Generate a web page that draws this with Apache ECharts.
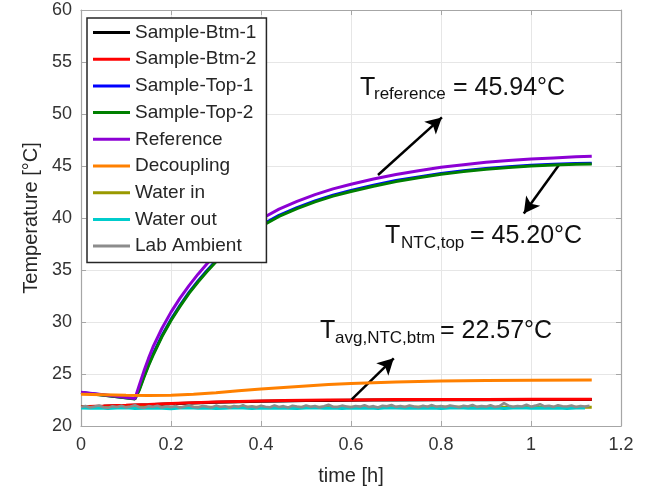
<!DOCTYPE html>
<html><head><meta charset="utf-8">
<script src="https://cdn.jsdelivr.net/npm/echarts@6/dist/echarts.min.js"></script>
<style>html,body{margin:0;padding:0;background:#fff}#c{width:648px;height:494px}</style>
</head><body><div id="c"></div>
<script>
const seriesNames = ['Sample-Btm-1','Sample-Btm-2','Sample-Top-1','Sample-Top-2','Reference','Decoupling','Water in','Water out','Lab Ambient'];
const seriesColors = ['#000000','#FF0000','#0000FF','#008000','#8C00D4','#FF8000','#999900','#00CCCC','#8C8C8C'];

// time grids [h]
const tRise = [0,0.04,0.08,0.12,0.13,0.14,0.15,0.16,0.18,0.20,0.22,0.24,0.26,0.28,0.30,0.33,0.36,0.40,0.44,0.48,0.52,0.56,0.60,0.65,0.70,0.75,0.80,0.85,0.90,0.95,1.00,1.05,1.10,1.135];
const tSlow = [0,0.05,0.10,0.15,0.20,0.25,0.30,0.35,0.40,0.45,0.50,0.55,0.60,0.65,0.70,0.80,0.90,1.00,1.135];
const tMid = [0,0.02,0.04,0.06,0.08,0.10,0.12,0.14,0.16,0.18,0.20,0.22,0.24,0.26,0.28,0.30,0.32,0.34,0.36,0.38,0.40,0.42,0.44,0.46,0.48,0.50,0.52,0.54,0.56,0.58,0.60,0.62,0.64,0.66,0.68,0.70,0.72,0.74,0.76,0.78,0.80,0.82,0.84,0.86,0.88,0.90,0.92,0.94,0.96,0.98,1.00,1.02,1.04,1.06,1.08,1.10,1.12];
const tFine = [0,0.01,0.02,0.03,0.04,0.05,0.06,0.07,0.08,0.09,0.10,0.11,0.12,0.13,0.14,0.15,0.16,0.17,0.18,0.19,0.20,0.21,0.22,0.23,0.24,0.25,0.26,0.27,0.28,0.29,0.30,0.31,0.32,0.33,0.34,0.35,0.36,0.37,0.38,0.39,0.40,0.41,0.42,0.43,0.44,0.45,0.46,0.47,0.48,0.49,0.50,0.51,0.52,0.53,0.54,0.55,0.56,0.57,0.58,0.59,0.60,0.61,0.62,0.63,0.64,0.65,0.66,0.67,0.68,0.69,0.70,0.71,0.72,0.73,0.74,0.75,0.76,0.77,0.78,0.79,0.80,0.81,0.82,0.83,0.84,0.85,0.86,0.87,0.88,0.89,0.90,0.91,0.92,0.93,0.94,0.95,0.96,0.97,0.98,0.99,1.00,1.01,1.02,1.03,1.04,1.05,1.06,1.07,1.08,1.09,1.10,1.11,1.12,1.13];

// temperatures [°C]
const referenceVals = [23.25,23.05,22.85,22.65,24.0,25.3,26.5,27.6,29.4,30.95,32.3,33.5,34.6,35.6,36.5,37.7,38.75,39.9,40.85,41.6,42.25,42.8,43.25,43.75,44.18,44.55,44.87,45.13,45.35,45.53,45.67,45.78,45.88,45.94];
const top2Vals = [23.2,23.0,22.8,22.6,23.5,24.7,25.8,26.8,28.6,30.15,31.5,32.75,33.85,34.85,35.8,37.0,38.05,39.2,40.15,40.9,41.55,42.1,42.55,43.05,43.5,43.87,44.2,44.46,44.68,44.86,45.0,45.1,45.16,45.20];
const top1Vals = [23.22,23.02,22.82,22.62,23.6,24.8,25.9,26.9,28.7,30.25,31.6,32.85,33.95,34.95,35.9,37.1,38.15,39.3,40.25,41.0,41.65,42.2,42.65,43.15,43.6,43.95,44.28,44.54,44.76,44.93,45.07,45.17,45.23,45.27];
const btm2Vals = [21.86,21.92,21.99,22.07,22.16,22.24,22.31,22.36,22.40,22.44,22.47,22.49,22.51,22.53,22.54,22.55,22.56,22.57,22.58];
const btm1Vals = [21.84,21.89,21.96,22.04,22.13,22.21,22.28,22.33,22.37,22.41,22.44,22.46,22.48,22.50,22.51,22.52,22.53,22.54,22.55];
const decouplingVals = [23.05,23.0,22.95,22.93,22.95,23.05,23.2,23.38,23.55,23.7,23.85,23.98,24.08,24.16,24.23,24.32,24.38,24.41,24.43];
const waterInVals = [21.80,21.79,21.81,21.80,21.79,21.81,21.80,21.82,21.80,21.79,21.81,21.80,21.81,21.79,21.80,21.82,21.80,21.81,21.80];
const waterOutVals = [21.74,21.70,21.73,21.68,21.72,21.75,21.69,21.71,21.74,21.70,21.67,21.72,21.76,21.70,21.73,21.69,21.71,21.75,21.72,21.68,21.73,21.70,21.74,21.71,21.69,21.73,21.76,21.70,21.72,21.68,21.74,21.71,21.73,21.69,21.75,21.72,21.70,21.74,21.71,21.73,21.68,21.72,21.75,21.70,21.73,21.71,21.74,21.69,21.72,21.76,21.70,21.73,21.71,21.74,21.69,21.72,21.73];
const labAmbientVals = [21.82,21.92,21.78,21.87,21.97,21.80,21.74,21.90,21.83,21.94,
21.79,21.88,21.99,21.81,21.76,21.91,21.84,21.95,21.78,21.89,
21.80,21.93,21.75,21.88,22.00,21.82,21.79,21.92,21.86,21.77,
21.96,21.83,21.90,21.76,21.93,21.84,22.01,21.81,21.89,21.78,
21.94,21.85,21.80,21.98,21.83,21.91,21.77,21.95,21.87,21.81,
21.97,21.84,21.92,21.79,21.90,22.04,21.85,21.82,21.96,21.88,
21.80,21.93,21.86,21.99,21.83,21.91,21.78,21.95,21.89,22.02,
21.84,21.92,21.82,21.98,21.88,21.81,21.94,21.86,22.01,21.85,
21.93,21.83,21.97,21.89,21.80,21.95,21.87,22.03,21.84,21.92,
21.86,21.99,21.82,21.91,22.20,21.95,21.85,21.93,21.88,22.05,
21.86,21.96,22.10,21.89,21.94,21.84,21.99,21.90,21.87,21.97,
21.83,21.93,21.88,21.95];

// axis ticks
const xTickValues = [0,0.2,0.4,0.6,0.8,1,1.2];
const yTickValues = [20,25,30,35,40,45,50,55,60];

// annotations: arrow [start(t,T), end(t,T)] and labels
const arrowCoords = [
  [[0.66,44.13],[0.802,49.67]],
  [[1.062,45.10],[0.984,40.43]],
  [[0.6016,22.57],[0.695,26.51]]
];
const annotationTexts = [
  {main:'T', sub:'reference', rest:'= 45.94°C'},
  {main:'T', sub:'NTC,top', rest:'= 45.20°C'},
  {main:'T', sub:'avg,NTC,btm', rest:'= 22.57°C'}
];

const FONT = '"Liberation Sans", Arial, Helvetica, sans-serif';
const zip = (ts, vs) => ts.map((t, i) => [t, vs[i]]);
const seriesData = [
  zip(tSlow, btm1Vals), zip(tSlow, btm2Vals), zip(tRise, top1Vals), zip(tRise, top2Vals),
  zip(tRise, referenceVals), zip(tSlow, decouplingVals), zip(tSlow, waterInVals),
  zip(tMid, waterOutVals), zip(tFine, labAmbientVals)
];

const chart = echarts.init(document.getElementById('c'), null, {renderer: 'canvas'});

const axisColor = '#a6a6a6';
function xAx(pos, labels) {
  return {
    type: 'value', position: pos, min: xTickValues[0], max: xTickValues[xTickValues.length - 1],
    interval: xTickValues[1] - xTickValues[0],
    axisLine: {show: true, onZero: false, lineStyle: {color: axisColor, width: 1.2}},
    axisTick: {show: true, inside: true, length: 5, lineStyle: {color: axisColor}},
    axisLabel: {show: labels, color: '#333', fontSize: 18, fontFamily: FONT, margin: 10},
    splitLine: {show: labels, lineStyle: {color: '#e6e6e6', width: 1}},
    name: labels ? 'time [h]' : '', nameLocation: 'middle', nameGap: 40,
    nameTextStyle: {fontSize: 20, color: '#262626', fontFamily: FONT}
  };
}
function yAx(pos, labels) {
  return {
    type: 'value', position: pos, min: yTickValues[0], max: yTickValues[yTickValues.length - 1],
    interval: yTickValues[1] - yTickValues[0],
    axisLine: {show: true, onZero: false, lineStyle: {color: axisColor, width: 1.2}},
    axisTick: {show: true, inside: true, length: 5, lineStyle: {color: axisColor}},
    axisLabel: {show: labels, color: '#333', fontSize: 18, fontFamily: FONT, margin: 9},
    splitLine: {show: labels, lineStyle: {color: '#e6e6e6', width: 1}},
    name: labels ? 'Temperature [°C]' : '', nameLocation: 'middle', nameGap: 40, nameRotate: 90,
    nameTextStyle: {fontSize: 20, color: '#262626', fontFamily: FONT}
  };
}

const series = seriesNames.map((name, i) => ({
  name, type: 'line', data: seriesData[i], xAxisIndex: 0, yAxisIndex: 0,
  showSymbol: false, symbol: 'none', smooth: false,
  lineStyle: {color: seriesColors[i], width: i === 8 ? 2.6 : 3},
  itemStyle: {color: seriesColors[i]},
  z: 2 + i, animation: false
}));
series[8].markLine = {
  silent: true, animation: false,
  lineStyle: {color: '#000', width: 2.5, type: 'solid'},
  label: {show: false},
  data: arrowCoords.map(a => [
    {coord: a[0], symbol: 'none'},
    {coord: a[1], symbol: 'arrow', symbolSize: [13, 16]}
  ])
};

// annotation label layout (pixel positions of text pieces)
const annoPos = [
  {x: 360, y: 88, sx: 374, sy: 94, rx: 453},
  {x: 385, y: 236, sx: 401, sy: 243, rx: 470},
  {x: 320, y: 331, sx: 335, sy: 338, rx: 440}
];
const graphic = [];
annotationTexts.forEach((a, i) => {
  const p = annoPos[i];
  graphic.push({type: 'text', x: p.x, y: p.y, z: 100, style: {text: a.main, font: '25px ' + FONT, fill: '#111', verticalAlign: 'middle'}});
  graphic.push({type: 'text', x: p.sx, y: p.sy, z: 100, style: {text: a.sub, font: '17px ' + FONT, fill: '#111', verticalAlign: 'middle'}});
  graphic.push({type: 'text', x: p.rx, y: p.y, z: 100, style: {text: a.rest, font: '25px ' + FONT, fill: '#111', verticalAlign: 'middle'}});
});

chart.setOption({
  backgroundColor: '#fff',
  animation: false,
  grid: {left: 81, right: 27, top: 10, bottom: 68, containLabel: false},
  xAxis: [xAx('bottom', true), xAx('top', false)],
  yAxis: [yAx('left', true), yAx('right', false)],
  legend: {
    orient: 'vertical', left: 87, top: 18, selectedMode: false,
    backgroundColor: '#fff', borderColor: '#262626', borderWidth: 1.5, borderRadius: 0,
    padding: [5, 10, 7, 6], itemGap: 7.7, itemWidth: 37, itemHeight: 3, icon: 'rect',
    textStyle: {fontSize: 19, color: '#262626', fontFamily: FONT},
    data: seriesNames, z: 50
  },
  series,
  graphic
});
</script></body></html>
